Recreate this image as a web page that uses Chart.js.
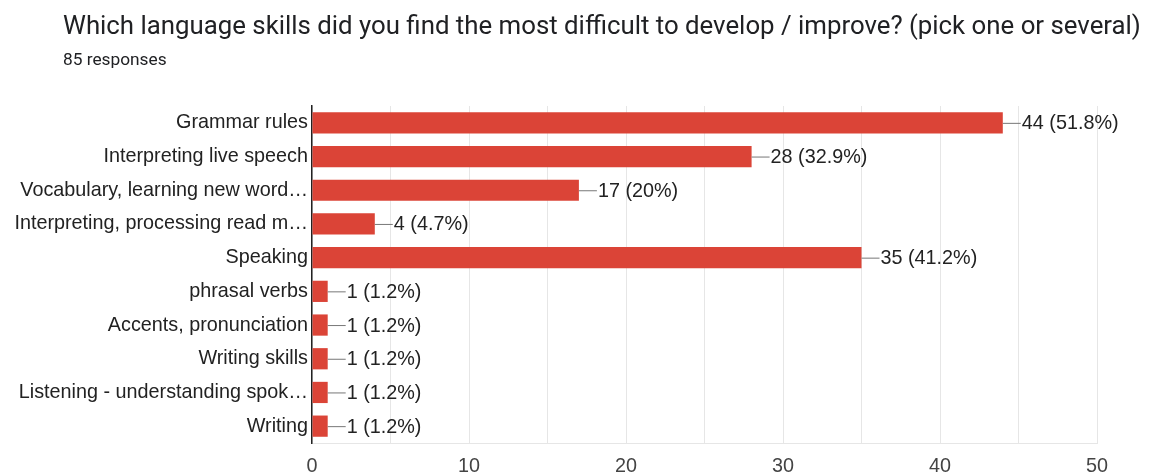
<!DOCTYPE html>
<html>
<head>
<meta charset="utf-8">
<script src="https://cdn.jsdelivr.net/npm/chart.js@4"></script>
<style>
  html, body { margin: 0; padding: 0; background: #fff; }
  #wrap { position: relative; width: 1156px; height: 472px; overflow: hidden; }
  #title { position: absolute; left: 63px; top: 10px; font-family: Roboto, sans-serif; font-size: 25.8px; color: #202124; white-space: nowrap; }
  #sub { position: absolute; left: 63px; top: 49px; font-family: Roboto, sans-serif; font-size: 17.3px; color: #202124; white-space: nowrap; }
  #c { position: absolute; left: 0; top: 0; }
</style>
</head>
<body>
<div id="wrap">
  <canvas id="c" width="1156" height="472"></canvas>
  <div id="title">Which language skills did you find the most difficult to develop / improve? (pick one or several)</div>
  <div id="sub">85 responses</div>
</div>
<script>
const categories = [
  "Grammar rules",
  "Interpreting live speech",
  "Vocabulary, learning new word…",
  "Interpreting, processing read m…",
  "Speaking",
  "phrasal verbs",
  "Accents, pronunciation",
  "Writing skills",
  "Listening - understanding spok…",
  "Writing"
];
const counts = [44, 28, 17, 4, 35, 1, 1, 1, 1, 1];
const percentLabels = ["51.8%", "32.9%", "20%", "4.7%", "41.2%", "1.2%", "1.2%", "1.2%", "1.2%", "1.2%"];
const xTicks = [0, 10, 20, 30, 40, 50];

const FONT = "'Liberation Sans', Arial, sans-serif";

const valueLabels = {
  id: 'valueLabels',
  afterDatasetsDraw(chart) {
    const ctx = chart.ctx;
    const meta = chart.getDatasetMeta(0);
    ctx.save();
    ctx.font = "19.8px " + FONT;
    ctx.textBaseline = 'middle';
    ctx.textAlign = 'left';
    meta.data.forEach((bar, i) => {
      const x = bar.x, y = bar.y;
      ctx.strokeStyle = '#777777';
      ctx.lineWidth = 1;
      ctx.beginPath();
      ctx.moveTo(x, y + 0.5);
      ctx.lineTo(x + 18, y + 0.5);
      ctx.stroke();
      ctx.fillStyle = '#222222';
      ctx.fillText(counts[i] + " (" + percentLabels[i] + ")", x + 19, y + 1);
    });
    ctx.restore();
  }
};

new Chart(document.getElementById('c'), {
  type: 'bar',
  data: {
    labels: categories,
    datasets: [{
      data: counts,
      backgroundColor: '#db4437',
      borderWidth: 0,
      barPercentage: 0.63,
      categoryPercentage: 1.0
    }]
  },
  plugins: [valueLabels],
  options: {
    indexAxis: 'y',
    responsive: false,
    animation: false,
    devicePixelRatio: 1,
    layout: { padding: { top: 106, right: 59, bottom: 0, left: 0 } },
    plugins: { legend: { display: false }, tooltip: { enabled: false }, title: { display: false } },
    scales: {
      x: {
        min: 0, max: 50,
        ticks: {
          stepSize: 5,
          autoSkip: false,
          maxRotation: 0,
          color: '#444444',
          font: { family: FONT, size: 19.8 },
          padding: 12,
          callback: (v) => xTicks.includes(v) ? String(v) : ''
        },
        grid: { color: '#e6e6e6', drawTicks: false, lineWidth: 1 },
        border: { display: true, color: '#e6e6e6' },
        afterFit: (s) => { s.height = 29; }
      },
      y: {
        ticks: {
          color: '#222222',
          font: { family: FONT, size: 19.8 },
          padding: 4,
          autoSkip: false
        },
        grid: { display: false, drawTicks: false },
        border: { display: true, color: '#222222', width: 1.5 },
        afterFit: (s) => { s.width = 312; }
      }
    }
  }
});
</script>
</body>
</html>
